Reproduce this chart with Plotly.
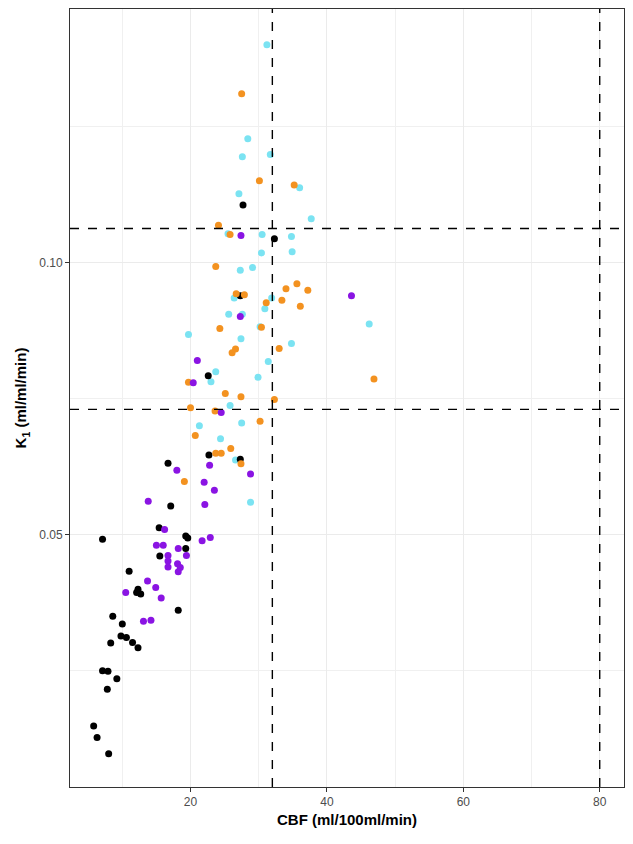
import plotly.graph_objects as go

# CBF (x) and K1 (y) per group
cyan_cbf = [31.2, 28.4, 27.6, 31.7, 36.0, 27.1, 37.7, 25.5, 30.5, 34.8, 30.4, 34.9,
            27.3, 29.1, 26.4, 31.9, 30.9, 25.6, 27.6, 19.7, 30.2, 27.4, 34.8, 31.4,
            23.7, 23.0, 29.9, 25.8, 21.3, 27.5, 24.4, 26.6, 28.8, 46.2]
cyan_k1 = [0.1401, 0.1228, 0.1195, 0.1199, 0.1138, 0.1127, 0.1081, 0.1053, 0.1052, 0.1048, 0.1018, 0.1020,
           0.0986, 0.0991, 0.0935, 0.0935, 0.0915, 0.0905, 0.0905, 0.0868, 0.0882, 0.0860, 0.0851, 0.0818,
           0.0799, 0.0781, 0.0789, 0.0737, 0.0700, 0.0705, 0.0676, 0.0637, 0.0559, 0.0887]

black_cbf = [27.7, 32.3, 27.3, 22.6, 22.7, 27.3, 16.7, 17.1, 15.4, 19.3, 19.6, 19.3,
             15.5, 7.1, 11.0, 12.3, 12.7, 12.1, 18.2, 8.6, 10.0, 9.8, 10.6, 8.3,
             11.5, 12.3, 7.1, 7.9, 9.2, 7.8, 5.8, 6.3, 8.0]
black_k1 = [0.1106, 0.1044, 0.0939, 0.0792, 0.0646, 0.0638, 0.0631, 0.0552, 0.0512, 0.0497, 0.0493, 0.0474,
            0.0460, 0.0491, 0.0432, 0.0399, 0.0390, 0.0393, 0.0360, 0.0349, 0.0335, 0.0313, 0.0310, 0.0300,
            0.0301, 0.0291, 0.0249, 0.0248, 0.0234, 0.0215, 0.0147, 0.0126, 0.0096]

orange_cbf = [27.5, 30.1, 35.2, 24.1, 25.8, 23.7, 34.0, 35.6, 37.2, 26.7, 27.9, 33.4,
              31.1, 36.1, 24.3, 30.4, 26.6, 26.1, 33.0, 19.7, 25.1, 27.4, 32.3, 20.0,
              23.6, 30.2, 20.7, 25.9, 23.7, 24.5, 27.4, 19.1, 46.9]
orange_k1 = [0.1311, 0.1151, 0.1143, 0.1069, 0.1052, 0.0993, 0.0952, 0.0961, 0.0949, 0.0943, 0.0941, 0.0931,
             0.0926, 0.0920, 0.0879, 0.0881, 0.0841, 0.0834, 0.0842, 0.0780, 0.0759, 0.0753, 0.0748, 0.0733,
             0.0727, 0.0708, 0.0682, 0.0658, 0.0649, 0.0649, 0.0630, 0.0597, 0.0786]

purple_cbf = [27.4, 43.6, 27.3, 21.0, 20.4, 24.5, 18.0, 22.8, 28.8, 22.0, 23.5, 13.8,
              22.1, 16.2, 21.7, 22.9, 15.0, 16.0, 18.2, 16.7, 16.7, 19.4, 18.1, 18.5,
              16.7, 18.2, 13.7, 14.9, 10.5, 15.7, 13.1, 14.2]
purple_k1 = [0.1050, 0.0939, 0.0901, 0.0820, 0.0779, 0.0724, 0.0618, 0.0627, 0.0611, 0.0596, 0.0581, 0.0561,
             0.0555, 0.0509, 0.0488, 0.0494, 0.0480, 0.0480, 0.0474, 0.0461, 0.0451, 0.0461, 0.0446, 0.0439,
             0.0440, 0.0431, 0.0414, 0.0402, 0.0393, 0.0383, 0.0340, 0.0342]

# reference lines
vlines = [32.0, 80.0]
hlines = [0.1063, 0.0730]

groups = [
    (cyan_cbf, cyan_k1, '#7BE3F2'),
    (black_cbf, black_k1, '#000000'),
    (orange_cbf, orange_k1, '#F39220'),
    (purple_cbf, purple_k1, '#8A14E3'),
]

fig = go.Figure()
for xs, ys, col in groups:
    fig.add_trace(go.Scatter(x=xs, y=ys, mode='markers',
                             marker=dict(color=col, size=7, line=dict(width=0)),
                             showlegend=False, hoverinfo='x+y'))

for v in vlines:
    fig.add_vline(x=v, line=dict(color='black', width=1.4, dash='dash'))
for h in hlines:
    fig.add_hline(y=h, line=dict(color='black', width=1.4, dash='dash'))

# page body adds an 8px offset, so the figure is drawn 8px smaller
grid = '#EBEBEB'
fig.update_layout(
    width=625, height=836,
    margin=dict(l=62, r=9, t=1, b=57),
    paper_bgcolor='white', plot_bgcolor='white',
    font=dict(family='Liberation Sans, Arial, sans-serif', color='#4D4D4D'),
)
fig.update_xaxes(
    range=[2.33, 83.56], tickvals=[20, 40, 60, 80],
    showgrid=True, gridcolor=grid, gridwidth=1.1, zeroline=False,
    minor=dict(tickvals=[10, 30, 50, 70], showgrid=True, gridcolor='#F0F0F0', gridwidth=0.6),
    ticks='outside', ticklen=4, tickcolor='#333333', tickfont=dict(size=12, color='#4D4D4D'),
    showline=True, mirror=True, linecolor='#333333', linewidth=1,
    title=dict(text='<b>CBF (ml/100ml/min)</b>', font=dict(size=15, color='black'), standoff=6),
)
fig.update_yaxes(
    range=[0.00349, 0.14669], tickvals=[0.05, 0.10], ticktext=['0.05', '0.10'],
    showgrid=True, gridcolor=grid, gridwidth=1.1, zeroline=False,
    minor=dict(tickvals=[0.025, 0.075, 0.125], showgrid=True, gridcolor='#F0F0F0', gridwidth=0.6),
    ticks='outside', ticklen=4, tickcolor='#333333', tickfont=dict(size=12, color='#4D4D4D'),
    showline=True, mirror=True, linecolor='#333333', linewidth=1,
    title=dict(text='<b>K<sub>1</sub> (ml/ml/min)</b>', font=dict(size=15, color='black'), standoff=8),
)

fig.write_html('out.html')
